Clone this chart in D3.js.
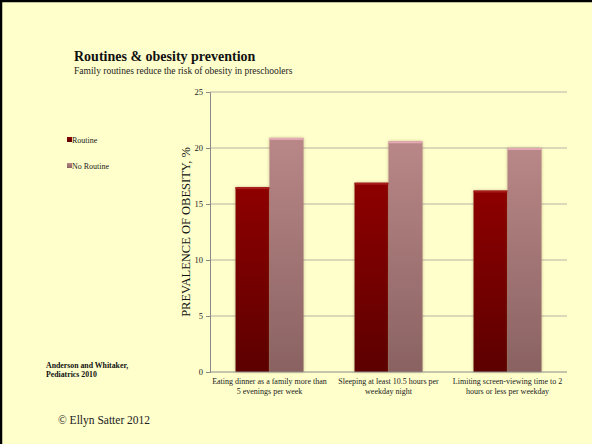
<!DOCTYPE html>
<html>
<head>
<meta charset="utf-8">
<script src="https://cdn.jsdelivr.net/npm/d3@7"></script>
<style>
  body { margin: 0; background: #ffffcc; }
  svg { display: block; font-family: "Liberation Serif", "Times New Roman", serif; }
</style>
</head>
<body>
<script>
// chart data
var categories = [
  ["Eating dinner as a family more than", "5 evenings per week"],
  ["Sleeping at least 10.5 hours per", "weekday night"],
  ["Limiting screen-viewing time to 2", "hours or less per weekday"]
];
var seriesNames = ["Routine", "No Routine"];
var routine = [16.5, 16.9, 16.2];
var noRoutine = [20.9, 20.6, 20.0];
var yTicks = [0, 5, 10, 15, 20, 25];

// set the dimensions of the page and the plot area
var width = 592, height = 444;
var plot = {left: 210, right: 567, top: 92, bottom: 372};

var svg = d3.select("body").append("svg")
    .attr("width", width)
    .attr("height", height);

// gradients for the bars
var defs = svg.append("defs");
function grad(id, top, bottom) {
  var g = defs.append("linearGradient").attr("id", id)
      .attr("x1", 0).attr("y1", 0).attr("x2", 0).attr("y2", 1);
  g.append("stop").attr("offset", "0%").attr("stop-color", top);
  g.append("stop").attr("offset", "100%").attr("stop-color", bottom);
}
grad("gRoutine", "#8e0303", "#5c0000");
grad("gNo", "#b98787", "#8a6262");

var shadow = defs.append("filter").attr("id", "shadow")
    .attr("x", "-20%").attr("y", "-5%").attr("width", "140%").attr("height", "110%");
shadow.append("feDropShadow").attr("dx", 0).attr("dy", 0)
    .attr("stdDeviation", 1.6).attr("flood-color", "#7a5a30").attr("flood-opacity", 0.45);

// background and slide frame
svg.append("rect").attr("width", width).attr("height", height).attr("fill", "#ffffcc");
svg.append("path").attr("d", "M1,444 V1 H592")
    .attr("fill", "none").attr("stroke", "#000").attr("stroke-width", 2.5);

// set the ranges
var y = d3.scaleLinear().domain([0, 25]).range([plot.bottom, plot.top]);
var x0 = d3.scaleBand().domain(d3.range(categories.length))
    .range([plot.left, plot.right]).padding(0);
var x1 = d3.scaleBand().domain(seriesNames)
    .range([0, x0.bandwidth()]).paddingInner(0).paddingOuter(0.75);

// gridlines
svg.append("g").selectAll("line")
  .data(yTicks.filter(function(d) { return d > 0; }))
  .enter().append("line")
    .attr("x1", plot.left).attr("x2", plot.right)
    .attr("y1", function(d) { return y(d); })
    .attr("y2", function(d) { return y(d); })
    .attr("stroke", "#b4b4a4").attr("stroke-width", 1);

// Add the Y Axis
var yAxis = svg.append("g")
    .attr("transform", "translate(" + plot.left + ",0)")
    .call(d3.axisLeft(y).tickValues(yTicks).tickSize(4).tickPadding(3));
yAxis.select(".domain").attr("stroke", "#8a8a8a");
yAxis.selectAll(".tick line").attr("stroke", "#8a8a8a");
yAxis.selectAll("text").attr("font-family", "Liberation Serif").attr("font-size", 8.5).attr("fill", "#222");

// y axis title
svg.append("text")
    .attr("transform", "translate(190," + ((plot.top + plot.bottom) / 2) + ") rotate(-90)")
    .attr("text-anchor", "middle")
    .attr("font-size", 12.5)
    .attr("fill", "#111")
    .text("PREVALENCE OF OBESITY, %");

// bars
var rows = categories.map(function(c, i) {
  return [{key: "Routine", value: routine[i]}, {key: "No Routine", value: noRoutine[i]}];
});
var fills = {"Routine": "url(#gRoutine)", "No Routine": "url(#gNo)"};
var tops = {"Routine": "#a81c1c", "No Routine": "#e4aab4"};

var groups = svg.append("g").selectAll("g")
  .data(rows)
  .enter().append("g")
    .attr("transform", function(d, i) { return "translate(" + x0(i) + ",0)"; });

groups.selectAll("rect.bar")
  .data(function(d) { return d; })
  .enter().append("rect")
    .attr("class", "bar")
    .attr("x", function(d) { return x1(d.key); })
    .attr("y", function(d) { return y(d.value); })
    .attr("width", x1.bandwidth())
    .attr("height", function(d) { return y(0) - y(d.value); })
    .attr("fill", function(d) { return fills[d.key]; })
    .attr("filter", "url(#shadow)");

// lighter top edge of each bar
groups.selectAll("rect.cap")
  .data(function(d) { return d; })
  .enter().append("rect")
    .attr("class", "cap")
    .attr("x", function(d) { return x1(d.key); })
    .attr("y", function(d) { return y(d.value); })
    .attr("width", x1.bandwidth())
    .attr("height", 2)
    .attr("fill", function(d) { return tops[d.key]; });

// Add the X Axis line
svg.append("line")
    .attr("x1", plot.left).attr("x2", plot.right)
    .attr("y1", plot.bottom).attr("y2", plot.bottom)
    .attr("stroke", "#8a8a8a");

// category labels
var xl = svg.append("g").selectAll("text")
  .data(categories)
  .enter().append("text")
    .attr("x", function(d, i) { return x0(i) + x0.bandwidth() / 2; })
    .attr("y", 384)
    .attr("text-anchor", "middle")
    .attr("font-size", 8)
    .attr("fill", "#222");
xl.selectAll("tspan")
  .data(function(d) { return d; })
  .enter().append("tspan")
    .attr("x", function() { return this.parentNode.getAttribute("x"); })
    .attr("dy", function(d, i) { return i ? 10 : 0; })
    .text(function(d) { return d; });

// legend
var legend = svg.append("g").selectAll("g")
  .data(seriesNames)
  .enter().append("g")
    .attr("transform", function(d, i) { return "translate(67," + (137 + i * 26) + ")"; });
legend.append("rect")
    .attr("width", 5).attr("height", 5)
    .attr("fill", function(d) { return fills[d]; });
legend.append("text")
    .attr("x", 5).attr("y", 5.5)
    .attr("font-size", 8)
    .attr("fill", "#222")
    .text(function(d) { return d; });

// titles
svg.append("text").attr("x", 74).attr("y", 61)
    .attr("font-size", 14).attr("font-weight", "bold").attr("fill", "#111")
    .text("Routines & obesity prevention");
svg.append("text").attr("x", 74).attr("y", 74)
    .attr("font-size", 9.5).attr("fill", "#222")
    .text("Family routines reduce the risk of obesity in preschoolers");

// source note
svg.append("text").attr("x", 46).attr("y", 368)
    .attr("font-size", 7.8).attr("font-weight", "bold").attr("fill", "#111")
    .text("Anderson and Whitaker,");
svg.append("text").attr("x", 46).attr("y", 376.5)
    .attr("font-size", 7.8).attr("font-weight", "bold").attr("fill", "#111")
    .text("Pediatrics 2010");

svg.append("text").attr("x", 58).attr("y", 424)
    .attr("font-size", 11.5).attr("fill", "#222")
    .text("\u00a9 Ellyn Satter 2012");
</script>
</body>
</html>
